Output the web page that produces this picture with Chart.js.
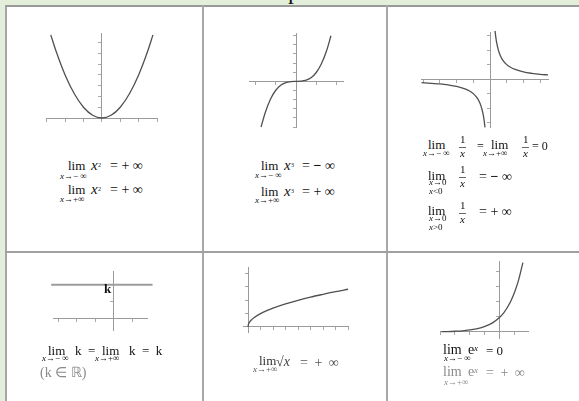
<!DOCTYPE html>
<html>
<head>
<meta charset="utf-8">
<script src="https://cdn.jsdelivr.net/npm/chart.js@4/dist/chart.umd.min.js"></script>
<style>
	html, body { margin:0; padding:0; width:579px; height:401px; overflow:hidden; background:#e3efda; }
	#sheet { position:absolute; left:5px; top:5px; width:600px; height:420px; background:#fff;
		border-left:2px solid #a6a6a6; border-top:2px solid #9a9a9a; }
	.vl { position:absolute; top:5px; width:2px; height:400px; background:#a8a8a8; }
	.hl { position:absolute; left:5px; top:251px; width:600px; height:2px; background:#a0a0a0; }
	canvas { position:absolute; }
	.f { position:absolute; font-family:"Liberation Serif","Times New Roman",serif; line-height:1; white-space:nowrap; color:#111; }
	.lim { font-size:13px; }
	.sub { font-size:9px; }
	.sub i, .var { font-style:italic; }
	.var { font-size:15px; }
	.sup { font-size:6px; }
	.op { font-size:14px; }
	.fr { font-size:11px; }
	.bar { position:absolute; height:1px; width:7px; background:#666; }
	.grey { color:#8a8a8a; }
</style>
</head>
<body>
<span class="f" style="left:288px;top:-21px;font-size:24px">p</span>
<div id="sheet"></div>
<div class="vl" style="left:202px"></div>
<div class="vl" style="left:386px"></div>
<div class="hl"></div>

<!-- graficos -->
<canvas id="c1" width="131" height="105" style="left:36px;top:23px"></canvas>
<canvas id="c2" width="114" height="114" style="left:239px;top:23px"></canvas>
<canvas id="c3" width="147" height="115" style="left:411px;top:22px"></canvas>
<canvas id="c4" width="114" height="79" style="left:43px;top:261px"></canvas>
<canvas id="c5" width="125" height="85" style="left:233px;top:257px"></canvas>
<canvas id="c6" width="108" height="97" style="left:430px;top:251px"></canvas>

<!-- x^2 -->
<span class="f lim" style="left:68px;top:159px">lim</span>
<span class="f sub" style="left:60px;top:172px"><i>x</i>→− ∞</span>
<span class="f var" style="left:91px;top:158px">x</span>
<span class="f sup" style="left:98px;top:162px">2</span>
<span class="f op" style="left:110px;top:159px">= + ∞</span>
<span class="f lim" style="left:68px;top:183px">lim</span>
<span class="f sub" style="left:60px;top:195px"><i>x</i>→+∞</span>
<span class="f var" style="left:91px;top:182px">x</span>
<span class="f sup" style="left:98px;top:186px">2</span>
<span class="f op" style="left:110px;top:183px">= + ∞</span>

<!-- x^3 -->
<span class="f lim" style="left:261px;top:159px">lim</span>
<span class="f sub" style="left:255px;top:171px"><i>x</i>→− ∞</span>
<span class="f var" style="left:284px;top:158px">x</span>
<span class="f sup" style="left:291px;top:162px">3</span>
<span class="f op" style="left:302px;top:159px">= <b>−</b> ∞</span>
<span class="f lim" style="left:261px;top:185px">lim</span>
<span class="f sub" style="left:255px;top:196px"><i>x</i>→+∞</span>
<span class="f var" style="left:284px;top:184px">x</span>
<span class="f sup" style="left:291px;top:188px">3</span>
<span class="f op" style="left:302px;top:185px">= + ∞</span>

<!-- 1/x -->
<span class="f lim" style="left:428px;top:138px">lim</span>
<span class="f sub" style="left:423px;top:149px"><i>x</i>→− ∞</span>
<span class="f fr" style="left:460px;top:134px">1</span>
<div class="bar" style="left:459px;top:147px"></div>
<span class="f fr" style="left:460px;top:148px"><i>x</i></span>
<span class="f op" style="left:477px;top:140px;font-size:12px">=</span>
<span class="f lim" style="left:491px;top:138px">lim</span>
<span class="f sub" style="left:483px;top:149px"><i>x</i>→+∞</span>
<span class="f fr" style="left:523px;top:134px">1</span>
<div class="bar" style="left:522px;top:147px"></div>
<span class="f fr" style="left:523px;top:148px"><i>x</i></span>
<span class="f op" style="left:532px;top:140px;font-size:12px">= 0</span>

<span class="f lim" style="left:428px;top:169px">lim</span>
<span class="f sub" style="left:429px;top:178px"><i>x</i>→0</span>
<span class="f sub" style="left:429px;top:187px"><i>x</i>&lt;0</span>
<span class="f fr" style="left:460px;top:164px">1</span>
<div class="bar" style="left:459px;top:177px"></div>
<span class="f fr" style="left:460px;top:178px"><i>x</i></span>
<span class="f op" style="left:479px;top:170px">= <b>−</b> ∞</span>

<span class="f lim" style="left:428px;top:204px">lim</span>
<span class="f sub" style="left:429px;top:214px"><i>x</i>→0</span>
<span class="f sub" style="left:429px;top:223px"><i>x</i>&gt;0</span>
<span class="f fr" style="left:460px;top:200px">1</span>
<div class="bar" style="left:459px;top:213px"></div>
<span class="f fr" style="left:460px;top:214px"><i>x</i></span>
<span class="f op" style="left:479px;top:205px">= + ∞</span>

<!-- k -->
<span class="f lim" style="left:104px;top:282px;font-weight:bold">k</span>
<span class="f lim" style="left:48px;top:344px">lim&nbsp;&nbsp;&nbsp;k&nbsp;&nbsp;=&nbsp;&nbsp;lim&nbsp;&nbsp;&nbsp;k&nbsp;&nbsp;=&nbsp;&nbsp;k</span>
<span class="f sub" style="left:42px;top:354px"><i>x</i>→− ∞</span>
<span class="f sub" style="left:95px;top:354px"><i>x</i>→+∞</span>
<span class="f grey" style="left:40px;top:366px;font-size:14px">(k ∈ ℝ)</span>

<!-- raiz -->
<span class="f lim" style="left:259px;top:354px;color:#333">lim</span>
<span class="f sub" style="left:253px;top:365px;color:#555"><i>x</i>→+∞</span>
<span class="f op" style="left:276px;top:355px;color:#444">√<i>x</i></span>
<span class="f op" style="left:300px;top:356px;color:#555;word-spacing:3px">= + ∞</span>

<!-- e^x -->
<span class="f op" style="left:443px;top:343px">lim</span>
<span class="f sub" style="left:444px;top:354px"><i>x</i>→− ∞</span>
<span class="f op" style="left:468px;top:343px">e</span>
<span class="f sup" style="left:474px;top:344px;font-size:9px"><i>x</i></span>
<span class="f op" style="left:486px;top:344px;font-size:13px">= 0</span>
<span class="f op grey" style="left:443px;top:365px">lim</span>
<span class="f sub grey" style="left:444px;top:378px"><i>x</i>→+∞</span>
<span class="f op grey" style="left:468px;top:365px">e</span>
<span class="f sup grey" style="left:474px;top:366px;font-size:9px"><i>x</i></span>
<span class="f op grey" style="left:486px;top:366px;word-spacing:3px">= + ∞</span>

<script>
const parabolaX = [-2.78, -2.5, -2, -1.5, -1, -0.5, 0, 0.5, 1, 1.5, 2, 2.5, 2.78];
const parabolaY = [7.73, 6.25, 4, 2.25, 1, 0.25, 0, 0.25, 1, 2.25, 4, 6.25, 7.73];

const cubicX = [-1.71, -1.5, -1.25, -1, -0.75, -0.5, -0.25, 0, 0.25, 0.5, 0.75, 1, 1.25, 1.5, 1.71];
const cubicY = [-5.0, -3.38, -1.95, -1, -0.42, -0.13, -0.02, 0, 0.02, 0.13, 0.42, 1, 1.95, 3.38, 5.0];

const hypLeftX = [-4.1, -3.5, -3, -2.5, -2, -1.5, -1.25, -1, -0.75, -0.6, -0.5, -0.4, -0.35, -0.3];
const hypLeftY = [-0.24, -0.29, -0.33, -0.4, -0.5, -0.67, -0.8, -1, -1.33, -1.67, -2, -2.5, -2.86, -3.33];
const hypRightX = [0.3, 0.35, 0.4, 0.5, 0.6, 0.75, 1, 1.25, 1.5, 2, 2.5, 3, 3.47];
const hypRightY = [3.33, 2.86, 2.5, 2, 1.67, 1.33, 1, 0.8, 0.67, 0.5, 0.4, 0.33, 0.29];

const constX = [-3.4, 2.1];
const constY = [2, 2];

const sqrtX = [0, 0.03, 0.1, 0.25, 0.5, 1, 1.5, 2, 3, 4, 5, 6, 7, 8];
const sqrtY = [0, 0.17, 0.32, 0.5, 0.71, 1, 1.22, 1.41, 1.73, 2, 2.24, 2.45, 2.65, 2.83];

const expX = [-3.9, -3.5, -3, -2.5, -2, -1.5, -1, -0.5, 0, 0.25, 0.5, 0.75, 1, 1.25, 1.53];
const expY = [0.02, 0.03, 0.05, 0.08, 0.14, 0.22, 0.37, 0.61, 1, 1.28, 1.65, 2.12, 2.72, 3.49, 4.62];

const pts = (xs, ys) => xs.map((x, i) => ({ x: x, y: ys[i] }));

const curve = (xs, ys) => ({
	data: pts(xs, ys),
	borderColor: '#505050',
	borderWidth: 1.3,
	pointRadius: 0,
	cubicInterpolationMode: 'monotone',
	clip: false
});

// eje matematico que cruza por el origen
const axis = (min, max, at) => ({
	type: 'linear',
	min: min,
	max: max,
	position: at,
	grid: { drawOnChartArea: false, drawTicks: true, tickLength: 3, color: '#a8a8a8' },
	border: { display: true, color: '#9a9a9a', width: 1 },
	ticks: { display: false, stepSize: 1, includeBounds: false }
});

function plot(id, datasets, xr, yr){
	new Chart(document.getElementById(id), {
		type: 'line',
		data: { datasets: datasets },
		options: {
			responsive: false,
			animation: false,
			events: [],
			layout: { padding: 10 },
			plugins: { legend: { display: false }, tooltip: { enabled: false } },
			scales: {
				x: axis(xr[0], xr[1], { y: 0 }),
				y: axis(yr[0], yr[1], { x: 0 })
			}
		}
	});
}

plot('c1', [curve(parabolaX, parabolaY)], [-3.04, 3.0], [0, 7.9]);
plot('c2', [curve(cubicX, cubicY)], [-2.3, 2.3], [-5.0, 5.3]);
plot('c3', [curve(hypLeftX, hypLeftY), curve(hypRightX, hypRightY)], [-4.13, 3.47], [-3.3, 3.25]);
plot('c4', [Object.assign(curve(constX, constY), { borderColor: '#9c9c9c', borderWidth: 2 })], [-3.3, 1.8], [-0.65, 2.8]);
plot('c5', [curve(sqrtX, sqrtY)], [-0.4, 8.0], [-0.38, 4.5]);
plot('c6', [curve(expX, expY)], [-4, 1.87], [-0.4, 4.73]);
</script>
</body>
</html>
